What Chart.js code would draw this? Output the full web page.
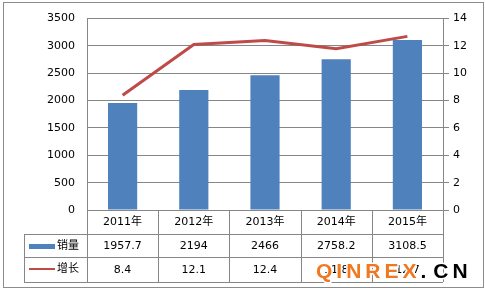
<!DOCTYPE html>
<html>
<head>
<meta charset="utf-8">
<script src="https://cdn.jsdelivr.net/npm/chart.js@4"></script>
<style>
  body { margin: 0; background: #fff; }
  #wrap { width: 485px; height: 292px; }
</style>
</head>
<body>
<div id="wrap"><canvas id="myChart" width="485" height="292"></canvas></div>
<script>
const years = ['2011年', '2012年', '2013年', '2014年', '2015年'];
const sales = [1957.7, 2194, 2466, 2758.2, 3108.5];
const growth = [8.4, 12.1, 12.4, 11.8, 12.7];
const salesName = '销量';
const growthName = '增长';

const blue = '#4F81BD';
const red = '#BE4B48';
const gridColor = '#868686';
const font = "'DejaVu Sans', 'Noto Sans CJK SC', sans-serif";

Chart.defaults.font.family = font;
Chart.defaults.font.size = 11;
Chart.defaults.color = '#000';

// data table under the plot, plus outer frame and watermark
const tablePlugin = {
    id: 'table',
    afterDraw(chart) {
        const ctx = chart.ctx;
        const area = chart.chartArea;
        const x = chart.scales.x;
        const n = years.length;
        const step = (area.right - area.left) / n;
        const rows = [area.bottom, 234, 257, 282];
        const left = 24;

        ctx.save();
        ctx.strokeStyle = gridColor;
        ctx.lineWidth = 1;
        ctx.beginPath();
        // horizontal lines
        ctx.moveTo(left, rows[1] + 0.5); ctx.lineTo(area.right, rows[1] + 0.5);
        ctx.moveTo(left, rows[2] + 0.5); ctx.lineTo(area.right, rows[2] + 0.5);
        ctx.moveTo(left, rows[3] + 0.5); ctx.lineTo(area.right, rows[3] + 0.5);
        // vertical lines
        ctx.moveTo(left + 0.5, rows[1]); ctx.lineTo(left + 0.5, rows[3]);
        for (let i = 0; i <= n; i++) {
            const xx = Math.round(area.left + i * step) + 0.5;
            ctx.moveTo(xx, rows[0]); ctx.lineTo(xx, rows[3]);
        }
        ctx.stroke();

        // legend keys
        ctx.fillStyle = blue;
        ctx.fillRect(29, 244, 26, 5);
        ctx.strokeStyle = red;
        ctx.lineWidth = 2;
        ctx.beginPath();
        ctx.moveTo(29, 269); ctx.lineTo(55, 269);
        ctx.stroke();

        ctx.fillStyle = '#000';
        ctx.font = '11px ' + font;
        ctx.textBaseline = 'middle';
        ctx.textAlign = 'left';
        ctx.fillText(salesName, 57, 246);
        ctx.fillText(growthName, 57, 269);

        ctx.textAlign = 'center';
        for (let i = 0; i < n; i++) {
            const cx = x.getPixelForValue(i);
            ctx.fillText(years[i], cx, 222);
            ctx.fillText(String(sales[i]), cx, 246);
            ctx.fillText(String(growth[i]), cx, 270);
        }

        // outer frame
        ctx.strokeStyle = '#8c8c8c';
        ctx.lineWidth = 1;
        ctx.strokeRect(3.5, 2.5, 480, 285);

        // watermark
        ctx.font = 'bold 21px "Liberation Sans", Arial, sans-serif';
        ctx.textAlign = 'left';
        ctx.textBaseline = 'alphabetic';
        const mark = 'QINREX.CN';
        let px = 316;
        for (let i = 0; i < mark.length; i++) {
            const ch = mark[i];
            ctx.lineWidth = 3;
            ctx.strokeStyle = '#fff';
            ctx.strokeText(ch, px, 278);
            ctx.fillStyle = i < 6 ? '#F07820' : '#000';
            ctx.fillText(ch, px, 278);
            px += ctx.measureText(ch).width + (ch === '.' ? 7 : 4);
        }
        ctx.restore();
    }
};

const config = {
    type: 'bar',
    data: {
        labels: years,
        datasets: [{
            type: 'line',
            label: growthName,
            data: growth,
            yAxisID: 'y1',
            borderColor: red,
            backgroundColor: red,
            borderWidth: 3,
            pointRadius: 0,
            tension: 0,
            order: 0
        }, {
            type: 'bar',
            label: salesName,
            data: sales,
            yAxisID: 'y',
            backgroundColor: blue,
            categoryPercentage: 1,
            barPercentage: 0.41,
            order: 1
        }]
    },
    options: {
        responsive: false,
        animation: false,
        layout: { padding: { top: 15, bottom: 82, left: 0, right: 0 } },
        plugins: {
            legend: { display: false },
            tooltip: { enabled: false }
        },
        scales: {
            x: { display: false },
            y: {
                position: 'left',
                min: 0,
                max: 3500,
                ticks: { stepSize: 500, padding: 12, callback: v => String(v) },
                grid: { color: gridColor, drawTicks: false },
                border: { color: gridColor },
                afterFit(scale) { scale.width = 87; }
            },
            y1: {
                position: 'right',
                min: 0,
                max: 14,
                ticks: { stepSize: 2, padding: 4, callback: v => String(v) },
                grid: { color: gridColor, drawOnChartArea: false, tickLength: 6 },
                border: { color: gridColor },
                afterFit(scale) { scale.width = 42; }
            }
        }
    },
    plugins: [tablePlugin]
};

const myChart = new Chart(document.getElementById('myChart'), config);
</script>
</body>
</html>
